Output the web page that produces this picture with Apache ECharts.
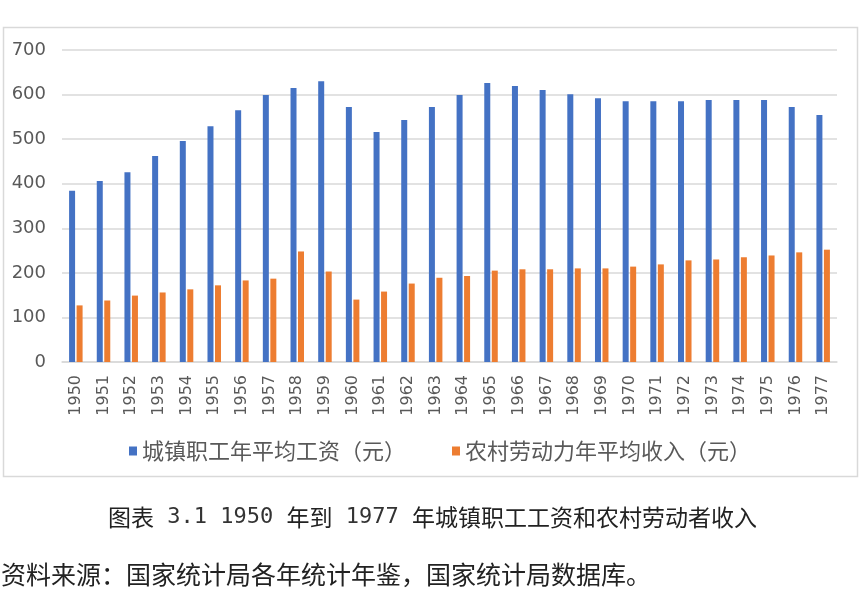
<!DOCTYPE html>
<html>
<head>
<meta charset="utf-8">
<script src="https://cdn.jsdelivr.net/npm/echarts@6/dist/echarts.min.js"></script>
<style>
  html, body { margin: 0; padding: 0; background: #fff; }
  #main { width: 865px; height: 595px; }
</style>
</head>
<body>
<div id="main"></div>
<script>
// 年份
const years = ['1950', '1951', '1952', '1953', '1954', '1955', '1956', '1957', '1958', '1959',
  '1960', '1961', '1962', '1963', '1964', '1965', '1966', '1967', '1968', '1969',
  '1970', '1971', '1972', '1973', '1974', '1975', '1976', '1977'];
// 城镇职工年平均工资（元）
const urbanWage = [384, 406, 426, 462, 496, 529, 565, 599, 615, 630,
  572, 516, 543, 572, 599, 626, 619, 610, 601, 592,
  585, 585, 585, 588, 588, 588, 572, 554];
// 农村劳动力年平均收入（元）
const ruralIncome = [127, 138, 149, 156, 163, 172, 183, 187, 248, 203,
  140, 158, 176, 189, 193, 205, 208, 208, 210, 210,
  214, 219, 228, 230, 235, 239, 246, 252];
const yTicks = [0, 100, 200, 300, 400, 500, 600, 700];

const cjk = '"Noto Sans CJK SC", sans-serif';
const mono = '"DejaVu Sans Mono", monospace';
const gray = '#595959';

const chart = echarts.init(document.getElementById('main'));

chart.setOption({
  animation: false,
  backgroundColor: '#fff',
  grid: { left: 62, right: 28, top: 50, bottom: 233 },
  legend: {
    left: 124,
    top: 435,
    itemWidth: 8,
    itemHeight: 9,
    itemGap: 46,
    icon: 'rect',
    textStyle: { fontSize: 22, color: gray, fontFamily: cjk },
    data: ['城镇职工年平均工资（元）', '农村劳动力年平均收入（元）'],
  },
  xAxis: {
    type: 'category',
    data: years,
    axisLine: { lineStyle: { color: '#d9d9d9', width: 1.5 } },
    axisTick: { show: false },
    axisLabel: {
      rotate: 90,
      interval: 0,
      margin: 13,
      fontSize: 16,
      color: gray,
      fontFamily: '"DejaVu Sans", sans-serif',
    },
  },
  yAxis: {
    type: 'value',
    min: yTicks[0],
    max: yTicks[yTicks.length - 1],
    interval: 100,
    axisLine: { show: false },
    axisTick: { show: false },
    splitLine: { lineStyle: { color: '#d9d9d9', width: 1.5 } },
    axisLabel: { fontSize: 18, color: gray, margin: 16, fontFamily: '"DejaVu Sans", sans-serif' },
  },
  series: [
    {
      name: '城镇职工年平均工资（元）',
      type: 'bar',
      data: urbanWage,
      barWidth: 6,
      barGap: '25%',
      itemStyle: { color: '#4472C4' },
    },
    {
      name: '农村劳动力年平均收入（元）',
      type: 'bar',
      data: ruralIncome,
      barWidth: 6,
      itemStyle: { color: '#ED7D31' },
    },
  ],
  graphic: [
    {
      type: 'rect',
      shape: { x: 3.5, y: 27.5, width: 854, height: 449 },
      style: { fill: 'none', stroke: '#d9d9d9', lineWidth: 1.5 },
      silent: true,
      z: -1,
    },
    {
      // 图表标题：数字用等宽字体，接近原图的半角宽度
      type: 'text',
      left: 'center',
      top: 506,
      style: {
        text: '{c|图表}{n| 3.1 1950 }{c|年到}{n| 1977 }{c|年城镇职工工资和农村劳动者收入}',
        fill: '#222',
        rich: {
          c: { fontSize: 23, fontFamily: cjk, fill: '#222' },
          n: { fontSize: 22, fontFamily: mono, fill: '#333' },
        },
      },
    },
    {
      type: 'text',
      left: 1,
      top: 562,
      style: {
        text: '资料来源：国家统计局各年统计年鉴，国家统计局数据库。',
        fontSize: 25,
        fill: '#222',
        fontFamily: cjk,
      },
    },
  ],
});
</script>
</body>
</html>
